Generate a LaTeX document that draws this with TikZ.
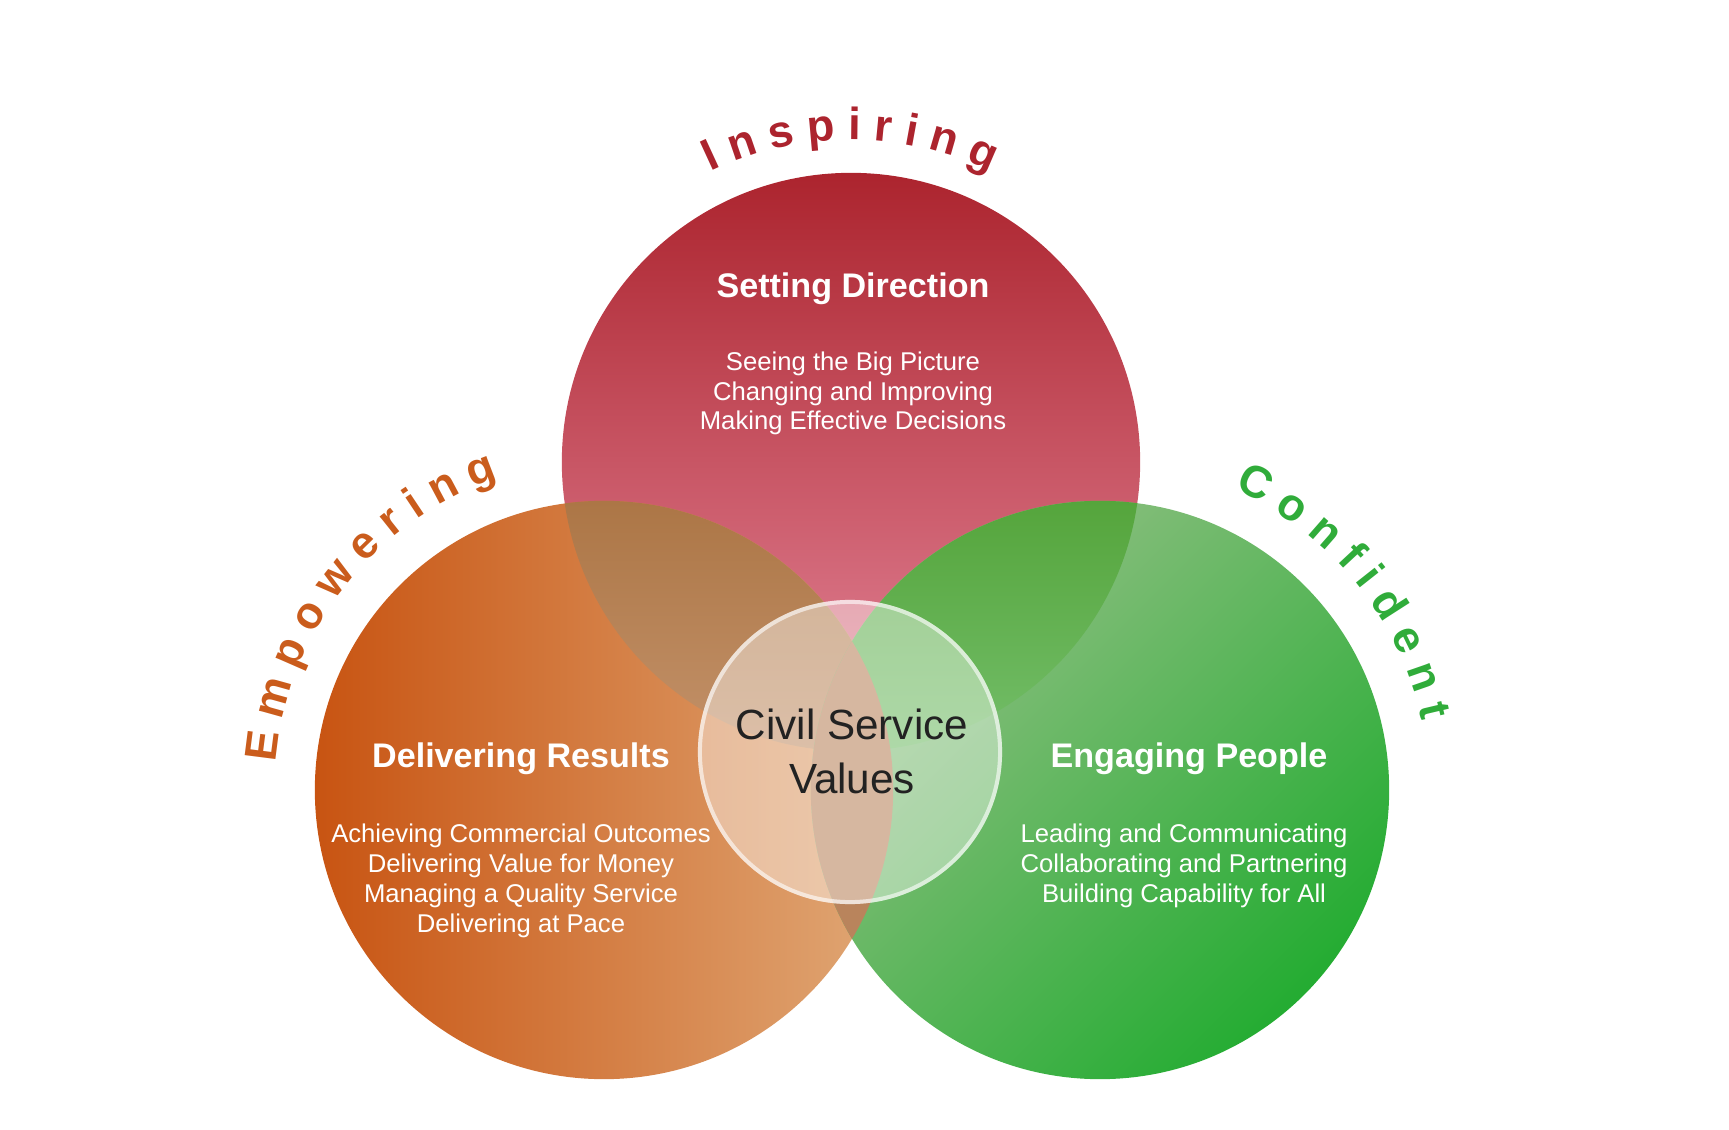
\documentclass[tikz,border=0pt]{standalone}
\usepackage{fontspec}
\setmainfont{Liberation Sans}
\usepackage{xcolor}
\usepackage{tikz}
\usetikzlibrary{positioning,decorations.text}

\definecolor{redtop}{RGB}{172,36,46}
\definecolor{redbot}{RGB}{228,135,155}
\definecolor{orleft}{RGB}{200,84,18}
\definecolor{orright}{RGB}{224,168,118}
\definecolor{grtop}{RGB}{150,192,135}
\definecolor{grbot}{RGB}{36,172,50}
\definecolor{roltop}{RGB}{172,118,70}
\definecolor{rolbot}{RGB}{225,181,151}
\definecolor{rgltop}{RGB}{85,165,60}
\definecolor{rglbot}{RGB}{155,223,165}
\definecolor{oglens}{RGB}{185,132,92}
\definecolor{insred}{RGB}{172,36,46}
\definecolor{emporange}{RGB}{202,92,28}
\definecolor{confgreen}{RGB}{48,172,58}
\definecolor{valtext}{RGB}{34,34,34}
\newcommand\arcfont{\fontsize{12.8}{15}\selectfont\bfseries}

\begin{document}
\begin{tikzpicture}[x=0.01cm,y=0.01cm,
    title/.style={text=white,font=\fontsize{9.7}{11.6}\selectfont\bfseries,anchor=base},
    body/.style={text=white,font=\fontsize{7.3}{8.45}\selectfont,align=center,anchor=base},
    arcword/.style={decorate,decoration={text along path,text align=center,#1}}]
  \useasboundingbox (0,0) rectangle (1729,1129);
  \def\rad{2.89cm}
  \coordinate (sd) at (851,667);
  \coordinate (dr) at (604,339);
  \coordinate (ep) at (1100,339);
  \coordinate (csv) at (850,377);
  % the three circles
  \shade[top color=redtop,bottom color=redbot] (sd) circle[radius=\rad];
  \shade[left color=orleft,right color=orright] (dr) circle[radius=\rad];
  \shade[top color=grtop,bottom color=grbot,shading angle=45] (ep) circle[radius=\rad];
  % overlaps
  \begin{scope}
    \clip (sd) circle[radius=\rad];
    \shade[top color=roltop,bottom color=rolbot] (dr) circle[radius=\rad];
    \shade[top color=rgltop,bottom color=rglbot] (ep) circle[radius=\rad];
  \end{scope}
  \begin{scope}
    \clip (dr) circle[radius=\rad];
    \fill[oglens] (ep) circle[radius=\rad];
  \end{scope}
  % centre
  \fill[white,fill opacity=0.42] (csv) circle[radius=1.52cm];
  \draw[white,draw opacity=0.6,line width=0.04cm] (csv) circle[radius=1.5cm];
  \node[anchor=base,text=valtext,font=\fontsize{12}{15.1}\selectfont,align=center] (val) at (852,336) {Civil Service\\Values};
  % words round the circles
  \path[arcword={text color=insred,text={|\arcfont|I n s p i r i n g}}]
    (sd) ++(130:3.22cm) arc[start angle=130,end angle=50,radius=3.22cm];
  \path[arcword={text color=emporange,text={|\arcfont|E m p o w e r i n g}}]
    (dr) ++(182:3.29cm) arc[start angle=182,end angle=102,radius=3.29cm];
  \path[arcword={text color=confgreen,text={|\arcfont|C o n f i d e n t}}]
    (ep) ++(79:3.29cm) arc[start angle=79,end angle=-1,radius=3.29cm];
  % texts
  \node[title] (sdt) at (853,832) {Setting Direction};
  \node[body] (sdb) at (853,699) {Seeing the Big Picture\\Changing and Improving\\Making Effective Decisions};
  \node[title] (drt) at (521,362) {Delivering Results};
  \node[body] (drb) at (521,197) {Achieving Commercial Outcomes\\Delivering Value for Money\\Managing a Quality Service\\Delivering at Pace};
  \node[title] (ept) at (1189,362) {Engaging People};
  \node[body] (epb) at (1184,227) {Leading and Communicating\\Collaborating and Partnering\\Building Capability for All};
\end{tikzpicture}
\end{document}
